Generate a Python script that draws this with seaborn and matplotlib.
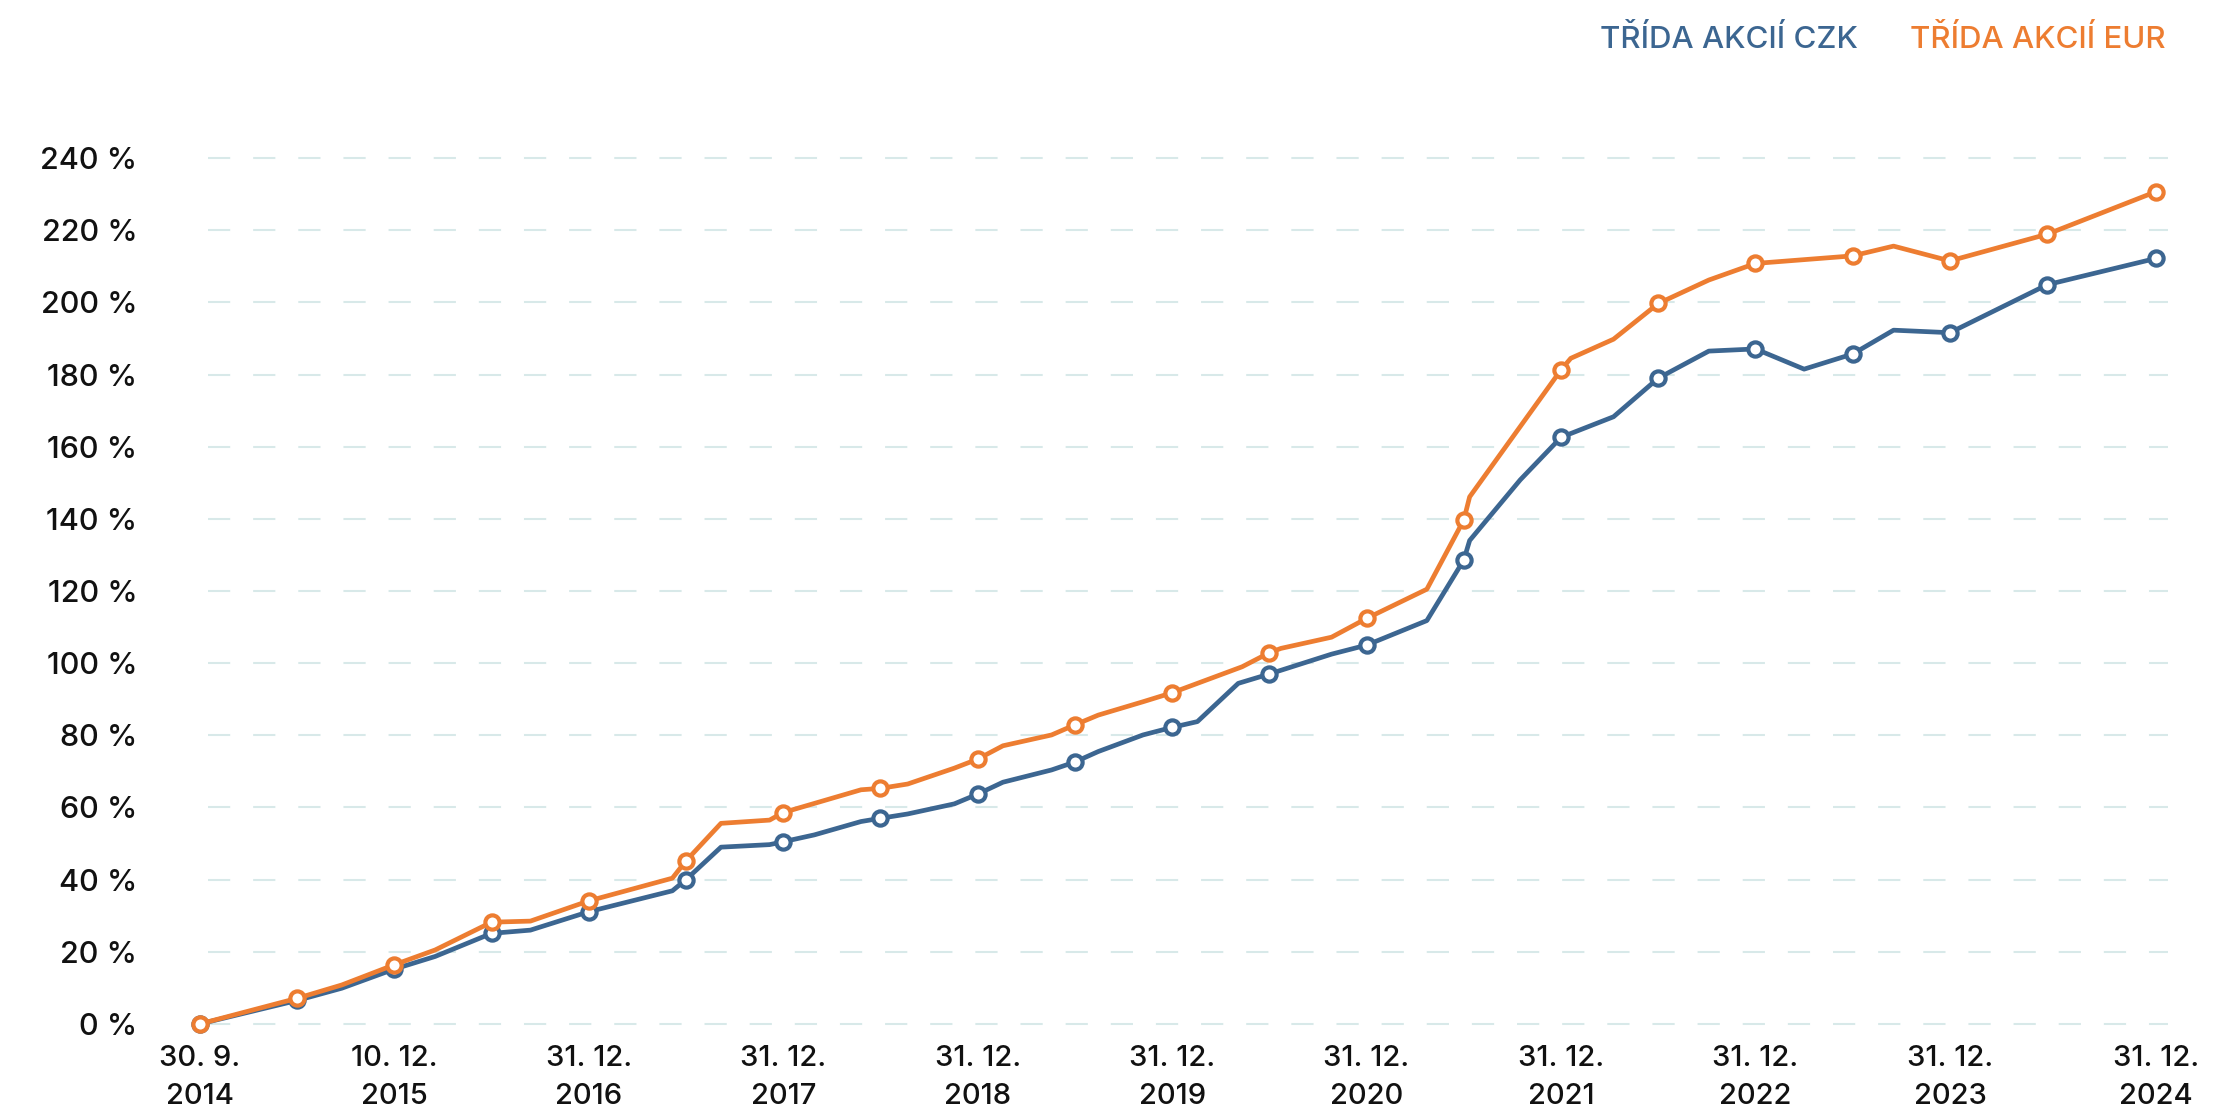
import pandas as pd
import seaborn as sns
import matplotlib.pyplot as plt

# x = position along the evenly spaced time axis (1 unit = 1 year from 30. 9. 2014)
czk_x = [0, 0.5, 0.73, 1.0, 1.21, 1.5, 1.7, 2.0, 2.43, 2.5, 2.68, 2.93, 3.0, 3.16, 3.4, 3.5,
         3.64, 3.88, 4.0, 4.13, 4.38, 4.5, 4.62, 4.85, 5.0, 5.13, 5.34, 5.5, 5.82, 6.0, 6.31,
         6.5, 6.53, 6.79, 7.0, 7.27, 7.5, 7.76, 8.0, 8.25, 8.5, 8.71, 9.0, 9.5, 10.06]
czk_val = [0, 6.5, 9.9, 15.2, 18.7, 25.1, 26.0, 31.1, 36.9, 40.0, 49.0, 49.7, 50.5, 52.4, 56.1, 57.0,
           58.2, 61.0, 63.7, 67.0, 70.4, 72.6, 75.5, 80.1, 82.2, 83.8, 94.4, 97.0, 102.5, 105.0, 111.8,
           128.6, 134.0, 150.8, 162.6, 168.3, 179.0, 186.5, 187.1, 181.5, 185.7, 192.3, 191.6, 204.9, 212.2]

eur_x = [0, 0.5, 0.73, 1.0, 1.21, 1.5, 1.7, 2.0, 2.43, 2.5, 2.68, 2.93, 3.0, 3.4, 3.5, 3.64,
         3.88, 4.0, 4.13, 4.38, 4.5, 4.62, 4.85, 5.0, 5.36, 5.5, 5.56, 5.82, 6.0, 6.31, 6.5,
         6.53, 7.0, 7.05, 7.27, 7.5, 7.76, 8.0, 8.5, 8.71, 9.0, 9.5, 10.06]
eur_val = [0, 7.1, 10.8, 16.4, 20.5, 28.2, 28.5, 34.1, 40.4, 45.2, 55.6, 56.5, 58.6, 64.9, 65.3, 66.5,
           70.9, 73.4, 77.1, 80.1, 82.9, 85.6, 89.3, 91.8, 99.0, 102.9, 104.1, 107.2, 112.4, 120.5, 139.7,
           146.1, 181.3, 184.5, 189.8, 199.7, 206.2, 210.8, 212.9, 215.6, 211.5, 218.9, 230.7]

# points that carry a circle marker (half-year reporting dates)
marker_x = [0, 0.5, 1.0, 1.5, 2.0, 2.5, 3.0, 3.5, 4.0, 4.5, 5.0, 5.5, 6.0, 6.5, 7.0,
            7.5, 8.0, 8.5, 9.0, 9.5, 10.06]

tick_pos = [0, 1, 2, 3, 4, 5, 6, 7, 8, 9, 10.06]
tick_labels = ["30. 9.\n2014", "10. 12.\n2015", "31. 12.\n2016", "31. 12.\n2017", "31. 12.\n2018",
               "31. 12.\n2019", "31. 12.\n2020", "31. 12.\n2021", "31. 12.\n2022", "31. 12.\n2023",
               "31. 12.\n2024"]
y_ticks = list(range(0, 241, 20))

series_names = ["TŘÍDA AKCIÍ CZK", "TŘÍDA AKCIÍ EUR"]
colors = ["#3c6691", "#ed7d31"]

sns.set_theme(style="white")
plt.rcParams['font.family'] = ['Inter', 'DejaVu Sans']
plt.rcParams['lines.scale_dashes'] = False

fig = plt.figure(figsize=(22.14, 11.08), dpi=100)
ax = fig.add_axes([0.0727, 0.0596, 0.9187, 0.814])

ax.hlines(y_ticks, 0.044, 10.12, colors="#d8e9e9", linewidth=1.5,
          linestyles=(0, (16, 16.5)), zorder=0)

frames = [pd.DataFrame({"x": czk_x, "v": czk_val}), pd.DataFrame({"x": eur_x, "v": eur_val})]
for i, df in enumerate(frames):
    sns.lineplot(data=df, x="x", y="v", color=colors[i], linewidth=3.4, ax=ax,
                 zorder=2 + 2 * i)
    marks = df[df["x"].isin(marker_x)]
    sns.scatterplot(data=marks, x="x", y="v", s=105, facecolor="white", edgecolor=colors[i],
                    linewidth=3.0, ax=ax, zorder=3 + 2 * i)

ax.set_xlim(-0.2, 10.26)
ax.set_ylim(-5, 245)
ax.set_xticks(tick_pos)
ax.set_xticklabels(tick_labels, fontsize=21, color="#111111", fontweight="medium")
for lab in ax.get_xticklabels():
    lab.set_linespacing(1.55)
ax.set_yticks(y_ticks)
ax.set_yticklabels([f"{v} %" for v in y_ticks], fontsize=22, color="#111111", fontweight="medium")
ax.tick_params(axis="both", length=0)
ax.tick_params(axis="y", pad=17)
ax.tick_params(axis="x", pad=2)
ax.set_xlabel("")
ax.set_ylabel("")
sns.despine(ax=ax, left=True, bottom=True)

fig.text(0.839, 0.964, series_names[0], color=colors[0], fontsize=22.5, ha="right", va="center",
         fontweight="medium")
fig.text(0.978, 0.964, series_names[1], color=colors[1], fontsize=22.5, ha="right", va="center",
         fontweight="medium")

fig.savefig("out.png", dpi=100)
